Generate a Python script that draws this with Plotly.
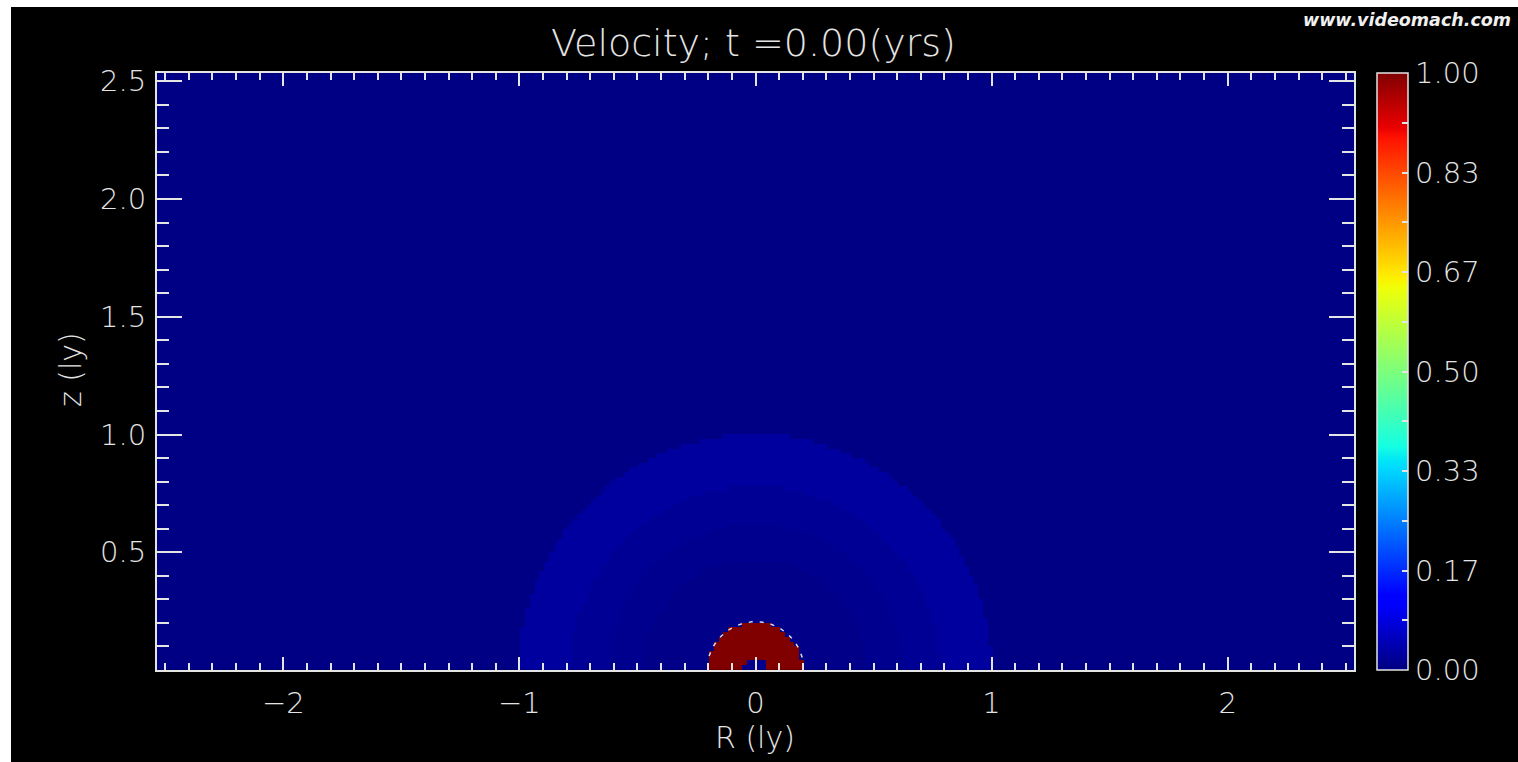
import numpy as np
import plotly.graph_objects as go

# ---- field description: concentric shells of the initial velocity (normalised) ----
shell_outer_radius = [0.05, 0.20, 0.47, 0.62, 0.78, 1.00]   # ly
shell_velocity     = [0.010, 1.000, 0.008, 0.013, 0.018, 0.026]
ambient_velocity   = 0.004

# dotted contour hugging the fast shell
contour_radius = 0.205
contour_angles_deg = [15, 165]

# axis ticks
x_tick_vals = [-2, -1, 0, 1, 2]
y_tick_vals = [0.5, 1.0, 1.5, 2.0, 2.5]
y_tick_text = ["0.5", "1.0", "1.5", "2.0", "2.5"]
cbar_tick_vals = [k / 12 for k in range(13)]
cbar_tick_text = ["0.00", "", "0.17", "", "0.33", "", "0.50", "", "0.67", "", "0.83", "", "1.00"]

title_text = "Velocity; t =0.00(yrs)"
x_title = "R (ly)"
y_title = "z (ly)"
watermark = "www.videomach.com"

X_RANGE = [-2.535, 2.535]
Y_RANGE = [0.0, 2.535]
CELL = 0.02

# ---- grid ----
xc = np.arange(X_RANGE[0] + CELL / 2, X_RANGE[1], CELL)
yc = np.arange(CELL / 2, Y_RANGE[1], CELL)
XX, YY = np.meshgrid(xc, yc)
RR = np.hypot(XX, YY)
Z = np.full(RR.shape, ambient_velocity)
for r_out, v in reversed(list(zip(shell_outer_radius, shell_velocity))):
    Z[RR <= r_out] = v

# ---- jet colour table ----
red_pts = [(0, 0), (0.35, 0), (0.66, 1), (0.89, 1), (1, 0.5)]
grn_pts = [(0, 0), (0.125, 0), (0.375, 1), (0.64, 1), (0.91, 0), (1, 0)]
blu_pts = [(0, 0.5), (0.11, 1), (0.34, 1), (0.65, 0), (1, 0)]
stops = sorted({p[0] for p in red_pts + grn_pts + blu_pts})


def chan(pts, s):
    return float(np.interp(s, [p[0] for p in pts], [p[1] for p in pts]))


jet = [[s, "rgb(%d,%d,%d)" % (round(255 * chan(red_pts, s)),
                              round(255 * chan(grn_pts, s)),
                              round(255 * chan(blu_pts, s)))] for s in stops]

# ---- page geometry (px) ----
W, H = 1518, 762
PL, PR, PT, PB = 157, 1354, 73, 670
pw, ph = PR - PL, PB - PT


def px_x(p):
    return (p - PL) / pw


def px_y(p):
    return (PB - p) / ph


FG = "#e4e4e4"
FONT = dict(family="DejaVu Sans", weight=200, color=FG)

fig = go.Figure()
fig.add_trace(go.Heatmap(
    x=xc, y=yc, z=Z, zmin=0, zmax=1, colorscale=jet, zsmooth=False,
    colorbar=dict(
        x=px_x(1377), xanchor="left", xpad=0, y=0.5, yanchor="middle",
        len=1, lenmode="fraction", ypad=0, thickness=31,
        outlinecolor=FG, outlinewidth=1.5,
        tickvals=cbar_tick_vals, ticktext=cbar_tick_text,
        ticks="inside", ticklen=6, tickwidth=1.5, tickcolor=FG,
        tickfont=dict(FONT, size=29),
    ),
    hoverinfo="skip",
))

th = np.radians(np.linspace(contour_angles_deg[0], contour_angles_deg[1], 120))
fig.add_trace(go.Scatter(
    x=contour_radius * np.cos(th), y=contour_radius * np.sin(th), mode="lines",
    line=dict(color="#d8d8e8", width=1.5, dash="4px,7px"),
    showlegend=False, hoverinfo="skip",
))

axis_common = dict(showline=True, linecolor=FG, linewidth=2, mirror="ticks",
                   ticks="inside", tickcolor=FG, tickwidth=1.5,
                   showgrid=False, zeroline=False, tickfont=dict(FONT, size=29))
fig.update_xaxes(range=X_RANGE, tickvals=x_tick_vals, ticklen=13,
                 minor=dict(ticks="inside", dtick=0.1, ticklen=7, tickcolor=FG, tickwidth=1.5),
                 ticklabelstandoff=6, **axis_common)
fig.update_yaxes(range=Y_RANGE, tickvals=y_tick_vals, ticktext=y_tick_text, ticklen=25,
                 minor=dict(ticks="inside", dtick=0.1, ticklen=12, tickcolor=FG, tickwidth=1.5),
                 ticklabelstandoff=3, **axis_common)

# left ticks of the colour bar
cb_x0 = px_x(1377)
shapes = [dict(type="line", xref="paper", yref="paper",
               x0=cb_x0, x1=cb_x0 + 6 / pw, y0=v, y1=v,
               line=dict(color=FG, width=1.5)) for v in cbar_tick_vals[1:-1]]
# white page edge strips
shapes += [
    dict(type="rect", xref="paper", yref="paper", x0=px_x(0), x1=px_x(11),
         y0=px_y(H), y1=px_y(0), fillcolor="white", line=dict(width=0)),
    dict(type="rect", xref="paper", yref="paper", x0=px_x(0), x1=px_x(W),
         y0=px_y(7), y1=px_y(0), fillcolor="white", line=dict(width=0)),
]

annotations = [
    dict(text=title_text, xref="paper", yref="paper", x=px_x(753), y=px_y(43),
         xanchor="center", yanchor="middle", showarrow=False, font=dict(FONT, size=38)),
    dict(text=x_title, xref="paper", yref="paper", x=px_x(755), y=px_y(738),
         xanchor="center", yanchor="middle", showarrow=False, font=dict(FONT, size=30)),
    dict(text=y_title, xref="paper", yref="paper", x=px_x(70), y=px_y(370),
         xanchor="center", yanchor="middle", textangle=-90, showarrow=False,
         font=dict(FONT, size=30)),
    dict(text="<b><i>" + watermark + "</i></b>", xref="paper", yref="paper",
         x=px_x(1513), y=px_y(20), xanchor="right", yanchor="middle", showarrow=False,
         font=dict(family="DejaVu Sans", size=17.5, color="#f0f0f0")),
]

fig.update_layout(
    width=W, height=H,
    margin=dict(l=PL, r=W - PR, t=PT, b=H - PB, autoexpand=False),
    paper_bgcolor="black", plot_bgcolor="black",
    shapes=shapes, annotations=annotations, showlegend=False,
)

fig.write_html("out.html")
